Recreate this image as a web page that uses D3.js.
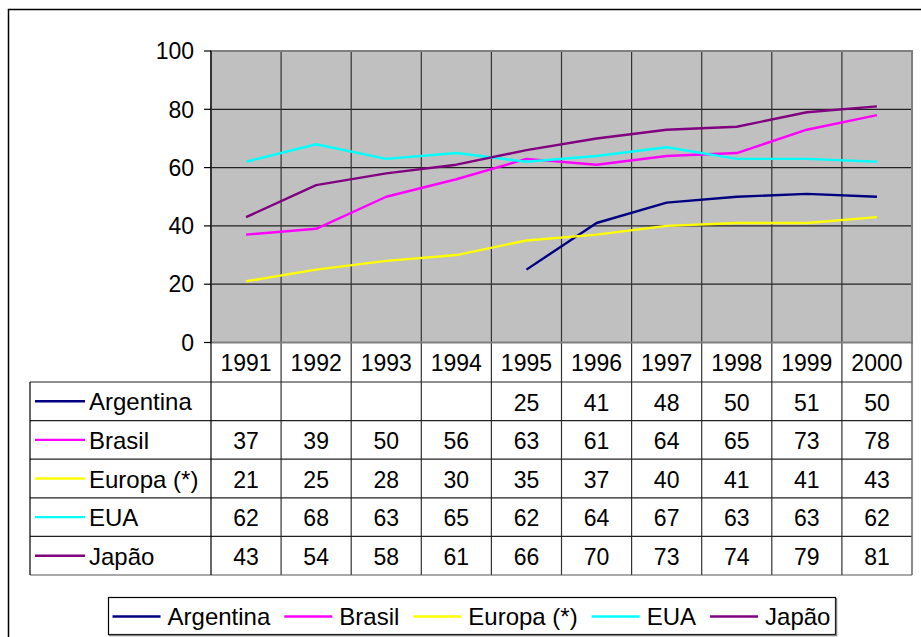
<!DOCTYPE html>
<html lang="pt">
  <head>
    <meta charset="UTF-8" />
    <title>Evolução 1991-2000</title>
    <script src="https://cdnjs.cloudflare.com/ajax/libs/d3/7.8.5/d3.min.js"></script>
    <style>
      body {
        margin: 0;
        background: #fff;
      }
      svg text {
        font-family: "Liberation Sans", Arial, sans-serif;
        font-size: 23px;
        fill: #000;
      }
      svg text.name {
        font-size: 24px;
      }
    </style>
  </head>
  <body>
    <div id="chart"></div>
    <script>
      // data
      const years = ["1991", "1992", "1993", "1994", "1995", "1996", "1997", "1998", "1999", "2000"];
      const yTicks = [0, 20, 40, 60, 80, 100];
      const argentina = [null, null, null, null, 25, 41, 48, 50, 51, 50];
      const brasil = [37, 39, 50, 56, 63, 61, 64, 65, 73, 78];
      const europa = [21, 25, 28, 30, 35, 37, 40, 41, 41, 43];
      const eua = [62, 68, 63, 65, 62, 64, 67, 63, 63, 62];
      const japao = [43, 54, 58, 61, 66, 70, 73, 74, 79, 81];

      const series = [
        { name: "Argentina", values: argentina, color: "#000080" },
        { name: "Brasil", values: brasil, color: "#ff00ff" },
        { name: "Europa (*)", values: europa, color: "#ffff00" },
        { name: "EUA", values: eua, color: "#00ffff" },
        { name: "Japão", values: japao, color: "#800080" },
      ];

      const width = 921;
      const height = 637;

      const plot = { left: 211, right: 912, top: 51, bottom: 342.5 };
      const tableLeft = 30;
      const headerBottom = 382;
      const rowH = 38.6;

      const svg = d3
        .select("#chart")
        .append("svg")
        .attr("width", width)
        .attr("height", height);

      // outer frame (runs off the bottom/right of the picture)
      svg
        .append("rect")
        .attr("x", 8.5)
        .attr("y", 9.5)
        .attr("width", 1000)
        .attr("height", 1000)
        .attr("fill", "none")
        .attr("stroke", "#000")
        .attr("stroke-width", 1.5);

      const x = d3.scaleBand().domain(years).range([plot.left, plot.right]);
      const y = d3.scaleLinear().domain([0, 100]).range([plot.bottom, plot.top]);

      // plot area
      svg
        .append("rect")
        .attr("x", plot.left)
        .attr("y", plot.top)
        .attr("width", plot.right - plot.left)
        .attr("height", plot.bottom - plot.top)
        .attr("fill", "#c0c0c0");

      // horizontal gridlines
      svg
        .append("g")
        .selectAll("line")
        .data(yTicks.slice(1, -1))
        .join("line")
        .attr("x1", plot.left)
        .attr("x2", plot.right)
        .attr("y1", (d) => y(d))
        .attr("y2", (d) => y(d))
        .attr("stroke", "#222")
        .attr("stroke-width", 1.2);

      // vertical lines through plot and table
      const tableBottom = headerBottom + rowH * series.length;
      svg
        .append("g")
        .selectAll("line")
        .data(years.slice(1))
        .join("line")
        .attr("x1", (d) => x(d))
        .attr("x2", (d) => x(d))
        .attr("y1", plot.top)
        .attr("y2", tableBottom)
        .attr("stroke", "#333")
        .attr("stroke-width", 1.2);

      // plot border
      svg
        .append("rect")
        .attr("x", plot.left)
        .attr("y", plot.top)
        .attr("width", plot.right - plot.left)
        .attr("height", plot.bottom - plot.top)
        .attr("fill", "none")
        .attr("stroke", "#808080")
        .attr("stroke-width", 2);

      // y axis
      const yAxis = svg.append("g");
      yAxis
        .append("line")
        .attr("x1", plot.left)
        .attr("x2", plot.left)
        .attr("y1", plot.top)
        .attr("y2", plot.bottom)
        .attr("stroke", "#000")
        .attr("stroke-width", 1.2);
      const yTick = yAxis
        .selectAll("g")
        .data(yTicks)
        .join("g")
        .attr("transform", (d) => `translate(0,${y(d)})`);
      yTick
        .append("line")
        .attr("x1", plot.left - 7)
        .attr("x2", plot.left)
        .attr("stroke", "#000")
        .attr("stroke-width", 1.2);
      yTick
        .append("text")
        .attr("x", plot.left - 17)
        .attr("dy", "0.36em")
        .attr("text-anchor", "end")
        .text((d) => d);

      // series lines
      const line = d3
        .line()
        .defined((d) => d.v !== null)
        .x((d) => x(d.year) + x.bandwidth() / 2)
        .y((d) => y(d.v));

      svg
        .append("g")
        .selectAll("path")
        .data(series)
        .join("path")
        .attr("d", (s) => line(s.values.map((v, i) => ({ year: years[i], v }))))
        .attr("fill", "none")
        .attr("stroke", (s) => s.color)
        .attr("stroke-width", 2.4)
        .attr("stroke-linejoin", "round");

      // data table
      const table = svg.append("g");
      table
        .selectAll("text.year")
        .data(years)
        .join("text")
        .attr("class", "year")
        .attr("x", (d) => x(d) + x.bandwidth() / 2)
        .attr("y", (plot.bottom + headerBottom) / 2)
        .attr("dy", "0.38em")
        .attr("text-anchor", "middle")
        .text((d) => d);

      // row lines
      table
        .selectAll("line.row")
        .data(d3.range(series.length + 1))
        .join("line")
        .attr("class", "row")
        .attr("x1", tableLeft)
        .attr("x2", plot.right)
        .attr("y1", (i) => headerBottom + i * rowH)
        .attr("y2", (i) => headerBottom + i * rowH)
        .attr("stroke", (i) => (i === series.length ? "#555" : "#222"))
        .attr("stroke-width", 1.2);

      // outer table verticals
      [tableLeft, plot.left].forEach((xv) => {
        table
          .append("line")
          .attr("x1", xv)
          .attr("x2", xv)
          .attr("y1", headerBottom)
          .attr("y2", tableBottom)
          .attr("stroke", "#000")
          .attr("stroke-width", 1.2);
      });
      table
        .append("line")
        .attr("x1", plot.left)
        .attr("x2", plot.left)
        .attr("y1", plot.bottom)
        .attr("y2", headerBottom)
        .attr("stroke", "#000")
        .attr("stroke-width", 1.2);
      table
        .append("line")
        .attr("x1", plot.right)
        .attr("x2", plot.right)
        .attr("y1", plot.bottom)
        .attr("y2", tableBottom)
        .attr("stroke", "#666")
        .attr("stroke-width", 1.5);

      const rows = table
        .selectAll("g.series-row")
        .data(series)
        .join("g")
        .attr("class", "series-row")
        .attr("transform", (s, i) => `translate(0,${headerBottom + (i + 0.5) * rowH})`);

      rows
        .append("line")
        .attr("x1", 35)
        .attr("x2", 85)
        .attr("stroke", (s) => s.color)
        .attr("stroke-width", 2.4);
      rows
        .append("text")
        .attr("class", "name")
        .attr("x", 89)
        .attr("dy", "0.38em")
        .text((s) => s.name);
      rows
        .selectAll("text.val")
        .data((s) => s.values.map((v, i) => ({ year: years[i], v })))
        .join("text")
        .attr("class", "val")
        .attr("x", (d) => x(d.year) + x.bandwidth() / 2)
        .attr("dy", "0.4em")
        .attr("text-anchor", "middle")
        .text((d) => (d.v === null ? "" : d.v));

      // legend
      const legendBox = { x: 108, y: 597, w: 727, h: 37 };
      const legend = svg.append("g");
      legend
        .append("rect")
        .attr("x", legendBox.x + 0.5)
        .attr("y", legendBox.y + 0.5)
        .attr("width", legendBox.w)
        .attr("height", legendBox.h)
        .attr("fill", "#fff")
        .attr("stroke", "#000")
        .attr("stroke-width", 1.2);
      legend
        .append("polyline")
        .attr(
          "points",
          `${legendBox.x + 1},${legendBox.y + legendBox.h + 1.5} ${legendBox.x + legendBox.w + 1.5},${legendBox.y + legendBox.h + 1.5} ${legendBox.x + legendBox.w + 1.5},${legendBox.y + 1}`
        )
        .attr("fill", "none")
        .attr("stroke", "#808080")
        .attr("stroke-width", 1.5);

      const items = legend.append("g");
      let cursor = 0;
      series.forEach((s) => {
        const g = items.append("g").attr("transform", `translate(${cursor},0)`);
        g.append("line")
          .attr("x1", 0)
          .attr("x2", 48)
          .attr("stroke", s.color)
          .attr("stroke-width", 2.4);
        const t = g
          .append("text")
          .attr("class", "name")
          .attr("x", 55)
          .attr("dy", "0.36em")
          .text(s.name);
        cursor += 55 + t.node().getComputedTextLength() + 14;
      });
      const itemsW = cursor - 14;
      items.attr(
        "transform",
        `translate(${legendBox.x + (legendBox.w - itemsW) / 2},${legendBox.y + legendBox.h / 2 + 1})`
      );
    </script>
  </body>
</html>
